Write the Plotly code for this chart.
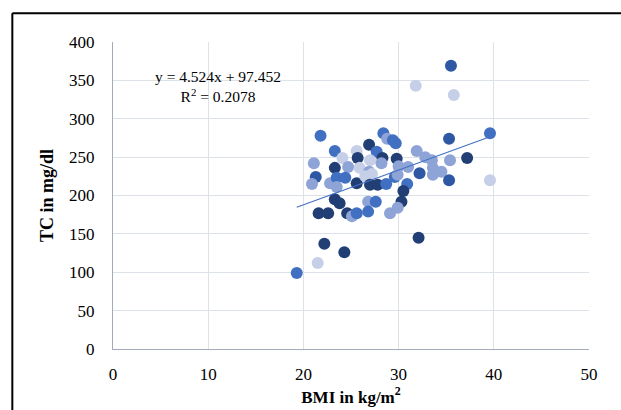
import plotly.graph_objects as go

# ---- data ----
bmi = [19.3, 21.5, 22.2, 24.3, 32.1, 21.8, 35.5, 31.8, 35.8, 39.6,
       35.3, 37.2, 28.4, 28.8, 29.4, 29.7, 26.9, 27.7, 23.3, 25.6,
       31.9, 21.1, 24.1, 25.7, 27.0, 28.3, 28.2, 29.8, 32.8, 33.5,
       35.4, 23.3, 24.7, 25.9, 26.9, 30.0, 31.0, 32.2, 33.6, 33.6,
       34.5, 35.3, 39.6, 21.3, 20.9, 22.8, 23.5, 24.4, 23.5, 25.6,
       26.5, 27.2, 27.0, 27.8, 28.7, 29.6, 29.9, 30.9, 30.5, 30.3,
       29.9, 23.3, 23.8, 26.8, 27.6, 21.6, 22.6, 24.6, 25.1, 25.6,
       26.8, 29.1]
tc = [99, 112, 137, 126, 145, 278, 369, 343, 331, 281,
      274, 249, 281, 274, 272, 268, 266, 257, 258, 258,
      258, 242, 249, 249, 246, 249, 242, 248, 250, 246,
      246, 236, 237, 236, 231, 238, 237, 229, 236, 227,
      231, 220, 220, 224, 215, 216, 223, 223, 211, 216,
      225, 228, 214, 214, 215, 224, 227, 215, 206, 192,
      184, 195, 190, 192, 192, 177, 177, 177, 173, 177,
      179, 177]

slope = 4.524
intercept = 97.452
r_squared = 0.2078

x_ticks = [0, 10, 20, 30, 40, 50]
y_ticks = [0, 50, 100, 150, 200, 250, 300, 350, 400]

# ---- style ----
palette = {"D": "#213f74", "MD": "#2e58a4", "M": "#4170c2", "L": "#8ea4d6", "VL": "#c6cfe8"}
shades = ["M", "VL", "D", "D", "D", "M", "MD", "VL", "VL", "M",
          "MD", "D", "M", "L", "M", "M", "D", "M", "M", "VL",
          "L", "L", "VL", "D", "VL", "D", "L", "D", "L", "L",
          "L", "D", "L", "VL", "L", "L", "L", "MD", "L", "L",
          "L", "MD", "VL", "MD", "L", "L", "M", "M", "L", "D",
          "VL", "VL", "D", "D", "M", "M", "L", "M", "D", "D",
          "L", "D", "D", "L", "M", "D", "D", "D", "L", "M",
          "M", "L"]
colors = [palette[s] for s in shades]

serif = "Liberation Serif, DejaVu Serif, serif"

fig = go.Figure()
fig.add_trace(go.Scatter(
    x=bmi, y=tc, mode="markers",
    marker=dict(size=12, color=colors, line=dict(width=0)),
    showlegend=False, hoverinfo="skip"))

x0, x1 = min(bmi), max(bmi)
fig.add_trace(go.Scatter(
    x=[x0, x1], y=[slope * x0 + intercept, slope * x1 + intercept],
    mode="lines", line=dict(color="#4472c4", width=1.2),
    showlegend=False, hoverinfo="skip"))

fig.add_annotation(
    x=0.221, y=0.855, xref="paper", yref="paper", showarrow=False,
    xanchor="center", yanchor="middle",
    text=f"y = {slope}x + {intercept}<br>R<sup>2</sup> = {r_squared}",
    font=dict(family=serif, size=15.5, color="#000000"), align="center")

# outer chart border (left and top visible, right/bottom run off the picture)
fig.add_shape(type="line", xref="paper", yref="paper",
              x0=-0.2115, x1=1.09, y0=1.094, y1=1.094,
              line=dict(color="#000000", width=2), layer="above")
fig.add_shape(type="line", xref="paper", yref="paper",
              x0=-0.2115, x1=-0.2115, y0=-0.22, y1=1.094,
              line=dict(color="#000000", width=2), layer="above")

fig.update_xaxes(
    range=[0, 50], tickvals=x_ticks, showgrid=True, gridcolor="#dde1e8", gridwidth=1,
    showline=True, linecolor="#a3aab8", linewidth=1, zeroline=False,
    ticks="outside", ticklen=10, tickcolor="rgba(0,0,0,0)", automargin=False,
    tickfont=dict(family=serif, size=17, color="#000000"),
    title=dict(text="<b>BMI in kg/m<sup>2</sup></b>", standoff=4,
               font=dict(family=serif, size=17, color="#000000")))
fig.update_yaxes(
    range=[0, 400], tickvals=y_ticks, showgrid=True, gridcolor="#dde1e8", gridwidth=1,
    showline=True, linecolor="#a3aab8", linewidth=1, zeroline=False,
    ticks="outside", ticklen=14, tickcolor="rgba(0,0,0,0)", automargin=False,
    tickfont=dict(family=serif, size=17, color="#000000"),
    title=dict(text="<b>TC in mg/dl</b>", standoff=10,
               font=dict(family=serif, size=18, color="#000000")))

fig.update_layout(
    width=621, height=410,
    margin=dict(l=113, r=32, t=42, b=61),
    paper_bgcolor="#ffffff", plot_bgcolor="#ffffff")

fig.write_html("out.html", config={"displayModeBar": False},
               post_script="document.body.style.margin='0px';")
